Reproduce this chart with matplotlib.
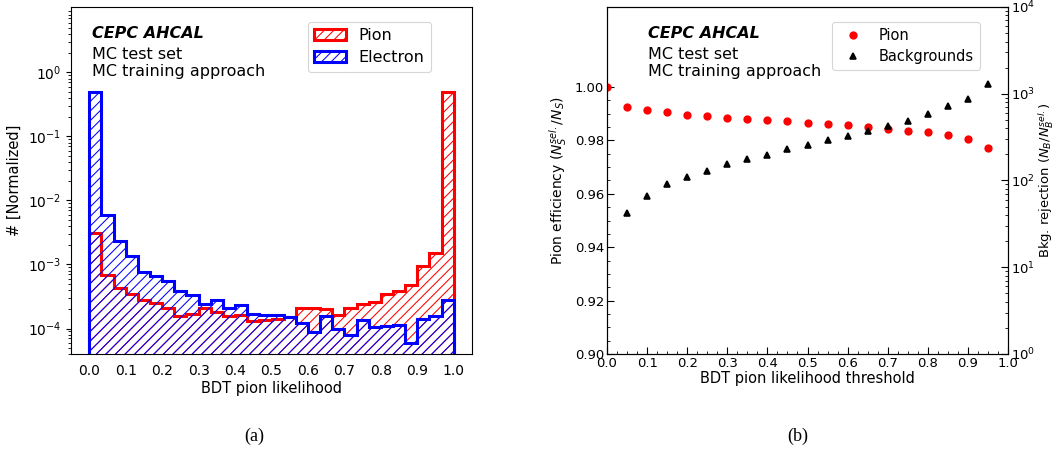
import numpy as np
import matplotlib
matplotlib.use("Agg")
import matplotlib.pyplot as plt
from matplotlib.patches import Patch
from matplotlib.ticker import FixedLocator, LogLocator, NullFormatter

# ---------------- data ----------------
bin_edges = np.linspace(0.0, 1.0, 31)
pion_hist = [3.05e-3, 6.8e-4, 4.3e-4, 3.4e-4, 2.8e-4, 2.5e-4, 2.1e-4, 1.57e-4, 1.7e-4, 2.1e-4,
             1.8e-4, 1.57e-4, 1.65e-4, 1.3e-4, 1.37e-4, 1.4e-4, 1.5e-4, 2.1e-4, 2.1e-4, 2.0e-4,
             1.65e-4, 2.1e-4, 2.4e-4, 2.6e-4, 3.4e-4, 3.9e-4, 4.7e-4, 9.6e-4, 1.5e-3, 0.5]
electron_hist = [0.5, 5.9e-3, 2.3e-3, 1.37e-3, 7.6e-4, 6.7e-4, 5.6e-4, 3.9e-4, 3.3e-4, 2.4e-4,
                 2.8e-4, 2.1e-4, 2.3e-4, 1.7e-4, 1.6e-4, 1.6e-4, 1.5e-4, 1.2e-4, 8.8e-5, 1.55e-4,
                 1.0e-4, 7.9e-5, 1.35e-4, 1.07e-4, 1.1e-4, 1.14e-4, 6.0e-5, 1.4e-4, 1.55e-4, 2.75e-4]

thresholds = [0.0, 0.05, 0.10, 0.15, 0.20, 0.25, 0.30, 0.35, 0.40, 0.45,
              0.50, 0.55, 0.60, 0.65, 0.70, 0.75, 0.80, 0.85, 0.90, 0.95]
pion_eff = [1.000, 0.9927, 0.9914, 0.9905, 0.9896, 0.9891, 0.9886, 0.9880, 0.9875, 0.9872,
            0.9866, 0.9862, 0.9857, 0.9849, 0.9844, 0.9837, 0.9830, 0.9820, 0.9805, 0.9772]
bkg_thresholds = thresholds[1:]
bkg_rejection = [42, 67, 90, 109, 130, 153, 176, 198, 228, 256,
                 292, 325, 371, 420, 488, 582, 714, 860, 1293]

x_ticks = [0.0, 0.1, 0.2, 0.3, 0.4, 0.5, 0.6, 0.7, 0.8, 0.9, 1.0]
eff_ticks = [0.90, 0.92, 0.94, 0.96, 0.98, 1.00]
hist_yticks = [1e-4, 1e-3, 1e-2, 1e-1, 1e0]

# ---------------- figure ----------------
DPI = 115
S = 100.0 / DPI          # keeps sizes as if drawn at 100 dpi
W, H = 1060, 454

plt.rcParams['font.family'] = ['DejaVu Sans']
plt.rcParams['hatch.linewidth'] = 0.75 * S
plt.rcParams['axes.linewidth'] = 0.8 * S
plt.rcParams['legend.frameon'] = True
fig = plt.figure(figsize=(W / DPI, H / DPI), dpi=DPI)

def axrect(x0, y0, x1, y1):
    return [x0 / W, 1 - y1 / H, (x1 - x0) / W, (y1 - y0) / H]

HATCH = '////'
LW = 2.2 * S

# ---------------- panel (a) ----------------
ax1 = fig.add_axes(axrect(71, 7, 472, 354))
ax1.stairs(pion_hist, bin_edges, baseline=1e-7, fill=False, edgecolor='red',
           hatch=HATCH, linewidth=LW)
ax1.stairs(electron_hist, bin_edges, baseline=1e-7, fill=False, edgecolor='blue',
           hatch=HATCH, linewidth=LW)
ax1.set_yscale('log')
ax1.set_xlim(-0.05, 1.05)
ax1.set_ylim(4e-5, 10.5)
ax1.set_yticks(hist_yticks)
ax1.yaxis.set_minor_locator(LogLocator(base=10, subs=np.arange(2, 10)))
ax1.yaxis.set_minor_formatter(NullFormatter())
ax1.set_xticks(x_ticks)
ax1.tick_params(axis='x', length=0, pad=7 * S, labelsize=10 * S)
ax1.tick_params(axis='y', which='major', length=3.5 * S, width=0.8 * S, pad=3.5 * S,
                labelsize=10 * S)
ax1.tick_params(axis='y', which='minor', length=2 * S, width=0.6 * S)
ax1.set_xlabel('BDT pion likelihood', fontsize=10.5 * S, labelpad=2 * S)
ax1.set_ylabel('# [Normalized]', fontsize=10.5 * S, labelpad=4 * S)
ax1.text(0.052, 0.945, 'CEPC AHCAL', transform=ax1.transAxes, fontsize=11.5 * S,
         fontweight='bold', fontstyle='italic', va='top', ha='left')
ax1.text(0.052, 0.885, 'MC test set\nMC training approach', transform=ax1.transAxes,
         fontsize=11.5 * S, va='top', ha='left', linespacing=1.15)
handles = [Patch(facecolor='none', edgecolor='red', hatch=HATCH, linewidth=LW, label='Pion'),
           Patch(facecolor='none', edgecolor='blue', hatch=HATCH, linewidth=LW, label='Electron')]
leg1 = ax1.legend(handles=handles, loc='upper right', bbox_to_anchor=(0.898, 0.957),
                  borderaxespad=0, fontsize=11.5 * S, handlelength=2.0, labelspacing=0.45)
leg1.get_frame().set_linewidth(0.8 * S)

# ---------------- panel (b) ----------------
ax2 = fig.add_axes(axrect(607, 7, 1008, 354))
ax3 = ax2.twinx()
l1, = ax2.plot(thresholds, pion_eff, 'o', color='red', markersize=4.8 * S,
               label='Pion', linestyle='none')
l2, = ax3.plot(bkg_thresholds, bkg_rejection, '^', color='black', markersize=4.8 * S,
               label='Backgrounds', linestyle='none')
ax2.set_xlim(0.0, 1.0)
ax2.set_ylim(0.90, 1.03)
ax2.set_xticks(x_ticks)
ax2.xaxis.set_minor_locator(FixedLocator(np.arange(0.0, 1.0001, 0.025)))
ax2.set_yticks(eff_ticks)
ax2.yaxis.set_minor_locator(FixedLocator(np.arange(0.90, 1.0001, 0.005)))
for a in (ax2, ax3):
    a.tick_params(which='both', direction='in', labelsize=9.5 * S, pad=2 * S)
    a.tick_params(which='major', length=5 * S, width=0.8 * S)
    a.tick_params(which='minor', length=2.5 * S, width=0.6 * S)
ax3.set_yscale('log')
ax3.set_ylim(1, 1e4)
ax3.yaxis.set_minor_locator(LogLocator(base=10, subs=np.arange(2, 10)))
ax3.yaxis.set_minor_formatter(NullFormatter())
ax2.set_xlabel('BDT pion likelihood threshold', fontsize=10.5 * S, labelpad=1 * S)
ax2.set_ylabel(r'Pion efficiency ($N_S^{sel.}/N_S$)', fontsize=10 * S, labelpad=4 * S)
ax3.set_ylabel(r'Bkg. rejection ($N_B/N_B^{sel.}$)', fontsize=9.5 * S, labelpad=1 * S)
ax2.text(0.102, 0.945, 'CEPC AHCAL', transform=ax2.transAxes, fontsize=11.5 * S,
         fontweight='bold', fontstyle='italic', va='top', ha='left')
ax2.text(0.102, 0.885, 'MC test set\nMC training approach', transform=ax2.transAxes,
         fontsize=11.5 * S, va='top', ha='left', linespacing=1.15)
leg2 = ax3.legend(handles=[l1, l2], loc='upper right', bbox_to_anchor=(0.93, 0.957),
                  borderaxespad=0, fontsize=10.5 * S, handlelength=2.0, labelspacing=0.45)
leg2.get_frame().set_linewidth(0.8 * S)

# ---------------- captions ----------------
fig.text(254 / W, 1 - 436 / H, '(a)', fontsize=13 * S, family='Liberation Serif',
         ha='center', va='center')
fig.text(798 / W, 1 - 436 / H, '(b)', fontsize=13 * S, family='Liberation Serif',
         ha='center', va='center')

fig.savefig('out.png', dpi=DPI)
